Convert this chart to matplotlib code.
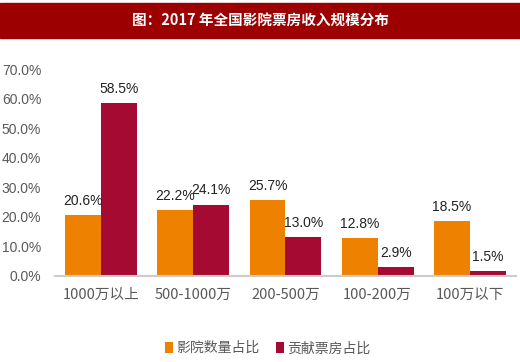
import numpy as np
import matplotlib.pyplot as plt
from matplotlib.patches import Rectangle

plt.rcParams['font.family'] = ['Liberation Sans', 'Noto Sans CJK SC', 'DejaVu Sans']

categories = ['1000万以上', '500-1000万', '200-500万', '100-200万', '100万以下']
cinema_share = [20.6, 22.2, 25.7, 12.8, 18.5]
boxoffice_share = [58.5, 24.1, 13.0, 2.9, 1.5]
series_names = ['影院数量占比', '贡献票房占比']
yticks = [0, 10, 20, 30, 40, 50, 60, 70]

orange = '#EE8200'
red = '#A50A32'
gray = '#595959'
cjk = ['Noto Sans CJK SC', 'DejaVu Sans']

fig = plt.figure(figsize=(5.2, 3.62), dpi=100)
fig.patches.append(Rectangle((0.0, 0.895), 1.0, 0.097, transform=fig.transFigure,
                             color='#9C0000', zorder=0))
fig.text(0.5, 0.943, '图：2017 年全国影院票房收入规模分布', ha='center', va='center',
         color='white', fontsize=10.5, fontweight='bold', family=cjk)

ax = fig.add_axes([0.106, 0.238, 0.886, 0.571])
x = np.arange(len(categories))
w = 0.39
b1 = ax.bar(x - w / 2, cinema_share, w, color=orange, label=series_names[0])
b2 = ax.bar(x + w / 2, boxoffice_share, w, color=red, label=series_names[1])

for bars, vals in [(b1, cinema_share), (b2, boxoffice_share)]:
    for bar, v in zip(bars, vals):
        ax.text(bar.get_x() + bar.get_width() / 2, v + 2.5, f'{v:.1f}%', ha='center',
                va='bottom', fontsize=10, color='#222222')

ax.set_xlim(-0.5, len(categories) - 0.5)
ax.set_ylim(0, 70)
ax.set_yticks(yticks)
ax.set_yticklabels([f'{t:.1f}%' for t in yticks], fontsize=10, color=gray)
ax.set_xticks(x)
ax.set_xticklabels(categories, fontsize=10.5, color=gray, family=cjk)
ax.tick_params(length=0, pad=9)
ax.tick_params(axis='y', pad=10)
for s in ['top', 'right', 'left']:
    ax.spines[s].set_visible(False)
ax.spines['bottom'].set_color('#CCCCCC')
ax.spines['bottom'].set_linewidth(1.5)

fig.legend(loc='center', bbox_to_anchor=(0.515, 0.038), ncol=2, frameon=False,
           handlelength=0.6, handleheight=0.9, handletextpad=0.2, columnspacing=1.2,
           prop={'family': cjk, 'size': 10}, labelcolor=gray)

fig.savefig('out.png', dpi=100)
